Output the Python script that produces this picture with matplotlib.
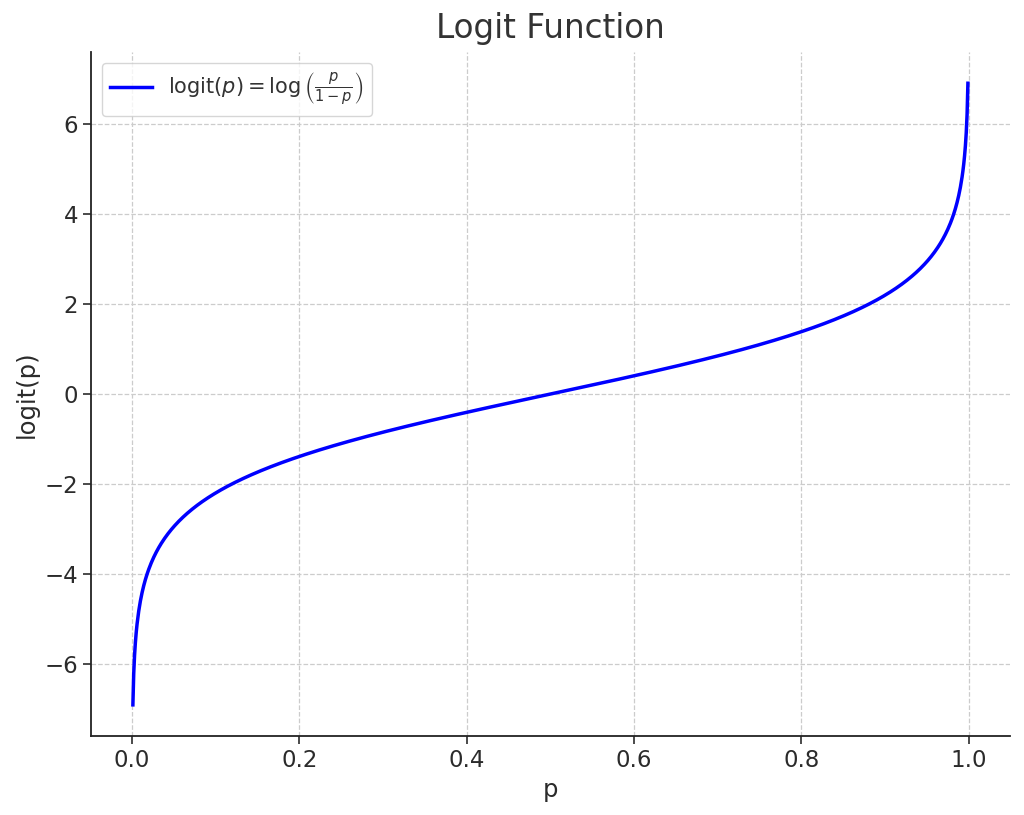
import numpy as np
import matplotlib
matplotlib.use('Agg')
import matplotlib.pyplot as plt

# curve: logit over the open interval, endpoints (y ends near +/-6.9)
p_min = 0.001
p_max = 0.999
n_points = 1000
x_ticks = [0.0, 0.2, 0.4, 0.6, 0.8, 1.0]
y_ticks = [-6, -4, -2, 0, 2, 4, 6]

p = np.linspace(p_min, p_max, n_points)
logit = np.log(p / (1 - p))

txt = '#2b2b2b'
plt.rcParams['text.color'] = '#333333'
plt.rcParams['axes.labelcolor'] = txt
plt.rcParams['xtick.color'] = txt
plt.rcParams['ytick.color'] = txt

fig = plt.figure(figsize=(10.24, 8.15), dpi=100)
ax = fig.add_axes([0.089, 0.097, 0.897, 0.839])

ax.plot(p, logit, color='blue', linewidth=2.5,
        label=r'$\mathrm{logit}(p) = \log\left(\frac{p}{1-p}\right)$')

ax.set_title('Logit Function', fontsize=23.5, pad=10)
ax.set_xlabel('p', fontsize=17.5)
ax.set_ylabel('logit(p)', fontsize=17.5)
ax.set_xticks(x_ticks)
ax.set_yticks(y_ticks)
ax.tick_params(labelsize=16.5, length=6, width=1.2)
ax.grid(True, linestyle='--', color='#cccccc', linewidth=0.9)
for s in ['top', 'right']:
    ax.spines[s].set_visible(False)
for s in ['left', 'bottom']:
    ax.spines[s].set_linewidth(1.3)
    ax.spines[s].set_color('#222222')

ax.legend(loc='upper left', fontsize=15)
fig.savefig('out.png', dpi=100)
